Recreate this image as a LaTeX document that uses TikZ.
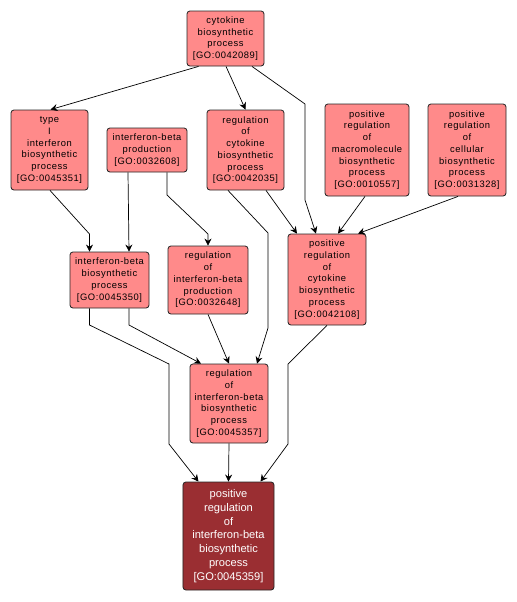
\documentclass[tikz,border=0pt]{standalone}
\usepackage{fontspec}
\setmainfont{Liberation Sans}
\newfontfamily\goFont[LetterSpace=6]{Liberation Sans}
\usepackage{tikz}
\usepackage{xcolor}
\usetikzlibrary{calc,arrows.meta}
\definecolor{goPink}{HTML}{FF8A8A}
\definecolor{goDark}{HTML}{9A2E32}
\tikzset{
 term/.style={draw=black!85, line width=0.7pt, fill=goPink, rounded corners=2.5pt, align=center, inner sep=0pt, font=\goFont\fontsize{8}{10}\selectfont},
 link/.style={line width=0.6pt, -{Stealth[length=6pt,width=6pt,inset=2pt]}}
}
\begin{document}
\begin{tikzpicture}[x=0.03cm,y=-0.03cm]
\useasboundingbox (0,0) rectangle (517,602);
% GO terms: name/x/y/width/height/label
\foreach \nm/\x/\y/\w/\h/\txt in {
 n42089/225.5/38.5/77/55/{cytokine\\biosynthetic\\process\\{[GO:0042089]}},
 n45351/49.5/150/77/80/{type\\I\\interferon\\biosynthetic\\process\\{[GO:0045351]}},
 n32608/147/150/80/44/{interferon-beta\\production\\{[GO:0032608]}},
 n42035/245.5/150/77/80/{regulation\\of\\cytokine\\biosynthetic\\process\\{[GO:0042035]}},
 n10557/367/150/84/92/{positive\\regulation\\of\\macromolecule\\biosynthetic\\process\\{[GO:0010557]}},
 n31328/467/150/78/92/{positive\\regulation\\of\\cellular\\biosynthetic\\process\\{[GO:0031328]}},
 n45350/109.5/280/79/56/{interferon-beta\\biosynthetic\\process\\{[GO:0045350]}},
 n32648/208/280/80/68/{regulation\\of\\interferon-beta\\production\\{[GO:0032648]}},
 n42108/327/279.5/78/91/{positive\\regulation\\of\\cytokine\\biosynthetic\\process\\{[GO:0042108]}},
 n45357/229/403.5/78/79/{regulation\\of\\interferon-beta\\biosynthetic\\process\\{[GO:0045357]}}}{
 \node[term, minimum width=\w*0.03cm, minimum height=\h*0.03cm] (\nm) at (\x,\y) {\txt};
 }
\node[term, fill=goDark, text=white, font=\fontsize{9.5}{11.7}\selectfont, minimum width=2.73cm, minimum height=3.24cm] (n45359) at (228.5,536) {positive\\regulation\\of\\interferon-beta\\biosynthetic\\process\\{[GO:0045359]}};

% is_a / regulates links
\draw[link] ($(n42089.south)+(-27,0)$) -- ($(n45351.north)+(1,0)$);
\draw[link] ($(n42089.south)+(0.5,0)$) -- (n42035.north);
\draw[link] ($(n42089.south)+(26.5,0)$) -- (305,104) -- (305,200) -- ($(n42108.north)+(-11,0)$);
\draw[link] ($(n45351.south)+(0.5,0)$) -- (89.5,234) -- ($(n45350.north)+(-20,0)$);
\draw[link] ($(n32608.south)+(-19,0)$) -- ($(n45350.north)+(19.5,0)$);
\draw[link] ($(n32608.south)+(20,0)$) -- (167,195) -- (208,234) -- (n32648.north);
\draw[link] ($(n42035.south)+(-17.5,0)$) -- (268,233) -- (268,328) -- ($(n45357.north)+(28,0)$);
\draw[link] ($(n42035.south)+(20.5,0)$) -- ($(n42108.north)+(-30,0)$);
\draw[link] ($(n10557.south)+(-2,0)$) -- ($(n42108.north)+(11,0)$);
\draw[link] ($(n31328.south)+(-9,0)$) -- ($(n42108.north)+(31,0)$);
\draw[link] ($(n45350.south)+(19.5,0)$) -- (129,325) -- ($(n45357.north)+(-28,0)$);
\draw[link] ($(n45350.south)+(-20,0)$) -- (89.5,325) -- (169,364) -- (169,444) -- ($(n45359.north)+(-30,0)$);
\draw[link] (n32648.south) -- (n45357.north);
\draw[link] (n42108.south) -- (288,364) -- (288,444) -- ($(n45359.north)+(32,0)$);
\draw[link] (n45357.south) -- (n45359.north);
\end{tikzpicture}
\end{document}
